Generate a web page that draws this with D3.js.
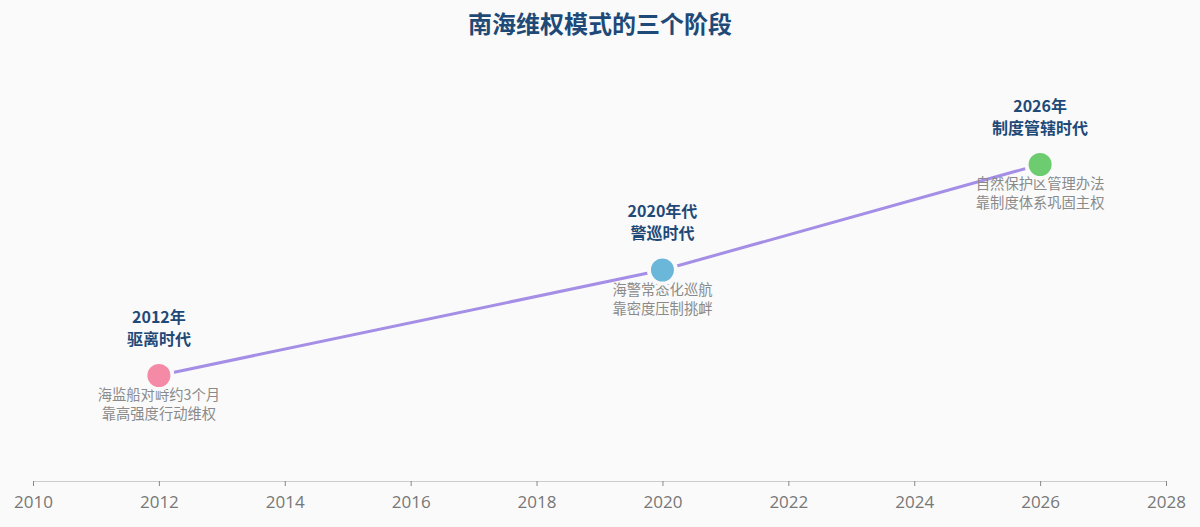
<!DOCTYPE html>
<html>
<head>
<meta charset="utf-8">
<script src="https://cdn.jsdelivr.net/npm/d3@7"></script>
<style>
  html, body { margin: 0; padding: 0; background: #fafafa; }
  svg { display: block; font-family: "Noto Sans CJK SC", "Noto Sans", sans-serif; }
</style>
</head>
<body>
<script>
// data
const years = [2012, 2020, 2026];
const stageLevels = [1, 2, 3];
const yearLabels = ["2012年", "2020年代", "2026年"];
const stageNames = ["驱离时代", "警巡时代", "制度管辖时代"];
const descLine1 = ["海监船对峙约3个月", "海警常态化巡航", "自然保护区管理办法"];
const descLine2 = ["靠高强度行动维权", "靠密度压制挑衅", "靠制度体系巩固主权"];
const pointColors = ["#f48aa6", "#6bb7d9", "#6dcc6f"];
const tickYears = d3.range(2010, 2029, 2);

const width = 1200, height = 527;
const margin = { top: 59, right: 34, bottom: 46, left: 33 };

const svg = d3.select('body').append('svg')
  .attr('width', width)
  .attr('height', height);

svg.append('rect').attr('width', width).attr('height', height).attr('fill', '#fafafa');

const x = d3.scaleLinear().domain([2010, 2028]).range([margin.left, width - margin.right]);
const y = d3.scaleLinear().domain([0, 4]).range([height - margin.bottom, margin.top]);

// title
svg.append('text')
  .attr('x', width / 2)
  .attr('y', 33)
  .attr('text-anchor', 'middle')
  .attr('font-size', 24)
  .attr('font-weight', 'bold')
  .attr('fill', '#1f4a78')
  .text('南海维权模式的三个阶段');

// axis
const axis = svg.append('g')
  .attr('transform', `translate(0,${y(0)})`)
  .call(d3.axisBottom(x).tickValues(tickYears).tickFormat(d3.format('d')).tickSize(5).tickSizeOuter(0));
axis.select('.domain').attr('stroke', '#cccccc');
axis.selectAll('.tick line').attr('stroke', '#888');
axis.selectAll('.tick text')
  .attr('fill', '#777')
  .style('font-family', '"Open Sans", "Noto Sans", sans-serif')
  .style('font-size', '17px')
  .attr('dy', '1.1em');

const pts = years.map((yr, i) => ({ yr, v: stageLevels[i], i }));

// line
svg.append('path')
  .datum(pts)
  .attr('fill', 'none')
  .attr('stroke', '#a48ee6')
  .attr('stroke-width', 3)
  .attr('d', d3.line().x(d => x(d.yr)).y(d => y(d.v)));

const g = svg.selectAll('.stage')
  .data(pts)
  .enter().append('g')
  .attr('class', 'stage')
  .attr('transform', d => `translate(${x(d.yr)},${y(d.v)})`);

// year + stage name
g.append('text')
  .attr('text-anchor', 'middle')
  .attr('y', -53)
  .attr('font-size', 16)
  .attr('font-weight', 'bold')
  .attr('fill', '#1f4a78')
  .text(d => yearLabels[d.i]);

g.append('text')
  .attr('text-anchor', 'middle')
  .attr('y', -31)
  .attr('font-size', 16)
  .attr('font-weight', 'bold')
  .attr('fill', '#1f4a78')
  .text(d => stageNames[d.i]);

// description, two lines
g.append('text')
  .attr('text-anchor', 'middle')
  .attr('y', 24.5)
  .attr('font-size', 14.3)
  .attr('fill', '#8a8a8a')
  .text(d => descLine1[d.i]);

g.append('text')
  .attr('text-anchor', 'middle')
  .attr('y', 43.5)
  .attr('font-size', 14.3)
  .attr('fill', '#8a8a8a')
  .text(d => descLine2[d.i]);

g.append('circle')
  .attr('r', 13.5)
  .attr('fill', d => pointColors[d.i])
  .attr('stroke', '#fafafa')
  .attr('stroke-width', 4);
</script>
</body>
</html>
